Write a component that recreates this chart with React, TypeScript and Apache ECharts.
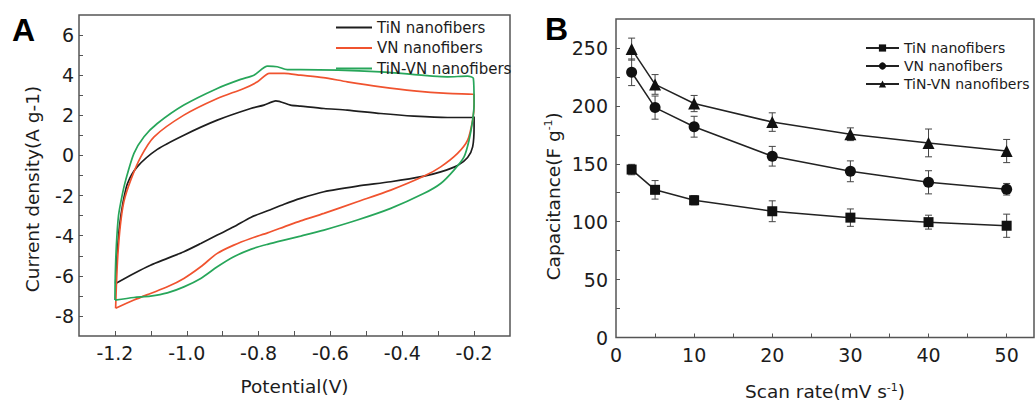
import React, { useEffect, useRef } from "react";
import * as echarts from "echarts";

// ---------- Panel A: cyclic voltammograms [potential (V), current density (A g-1)] ----------
const tinCV: number[][] = [
  [-1.198, -6.38], [-1.196, -5.5], [-1.193, -4.7], [-1.187, -3.5], [-1.178, -2.4], [-1.165, -1.4],
  [-1.138, -0.57], [-1.082, 0.3], [-1.008, 1.01], [-0.915, 1.76], [-0.822, 2.34],
  [-0.785, 2.51], [-0.752, 2.72], [-0.711, 2.51], [-0.683, 2.46], [-0.618, 2.34], [-0.553, 2.26],
  [-0.46, 2.09], [-0.367, 1.96], [-0.274, 1.89], [-0.204, 1.89], [-0.2, 1.93], [-0.2, 1.43],
  [-0.204, 0.43], [-0.218, -0.1], [-0.246, -0.5], [-0.293, -0.82], [-0.339, -1.03], [-0.432, -1.31],
  [-0.525, -1.53], [-0.618, -1.81], [-0.683, -2.14], [-0.729, -2.43], [-0.775, -2.76], [-0.822, -3.09],
  [-0.869, -3.56], [-0.915, -3.97], [-0.961, -4.39], [-1.008, -4.8], [-1.054, -5.13], [-1.101, -5.47],
  [-1.147, -5.88], [-1.198, -6.38],
];
const vnCV: number[][] = [
  [-1.198, -7.62], [-1.196, -6.5], [-1.192, -5.0], [-1.185, -3.5], [-1.175, -2.3], [-1.156, -1.23],
  [-1.128, -0.07], [-1.091, 0.93], [-1.008, 2.01], [-0.915, 2.84], [-0.841, 3.34], [-0.803, 3.67],
  [-0.77, 4.09], [-0.729, 4.09], [-0.683, 4.0], [-0.62, 3.88], [-0.553, 3.67], [-0.46, 3.42],
  [-0.367, 3.22], [-0.274, 3.09], [-0.204, 3.05], [-0.2, 3.03], [-0.2, 2.51], [-0.204, 1.76],
  [-0.218, 0.76], [-0.246, 0.1], [-0.293, -0.57], [-0.339, -1.03], [-0.432, -1.73], [-0.525, -2.31],
  [-0.618, -2.89], [-0.683, -3.26], [-0.729, -3.56], [-0.775, -3.86], [-0.822, -4.14], [-0.869, -4.47],
  [-0.915, -4.88], [-0.961, -5.55], [-1.008, -6.13], [-1.054, -6.55], [-1.101, -6.88], [-1.147, -7.21],
  [-1.198, -7.62],
];
const tinvnCV: number[][] = [
  [-1.2, -7.21], [-1.199, -6.0], [-1.196, -4.5], [-1.19, -3.0], [-1.18, -2.0], [-1.17, -1.23],
  [-1.147, 0.1], [-1.119, 0.93], [-1.082, 1.59], [-1.008, 2.51], [-0.915, 3.34], [-0.85, 3.79],
  [-0.813, 4.0], [-0.775, 4.45], [-0.748, 4.42], [-0.72, 4.28], [-0.683, 4.28], [-0.46, 4.17],
  [-0.274, 3.92], [-0.218, 3.95], [-0.202, 3.84], [-0.2, 2.6], [-0.204, 1.76], [-0.214, 0.76],
  [-0.228, -0.07], [-0.256, -0.73], [-0.293, -1.4], [-0.339, -1.89], [-0.432, -2.64], [-0.525, -3.22],
  [-0.618, -3.72], [-0.683, -4.02], [-0.729, -4.22], [-0.775, -4.43], [-0.822, -4.68], [-0.869, -5.05],
  [-0.915, -5.55], [-0.961, -6.13], [-1.008, -6.55], [-1.054, -6.85], [-1.101, -7.01], [-1.147, -7.08],
  [-1.2, -7.21],
];
const cvNames = ["TiN nanofibers", "VN nanofibers", "TiN-VN nanofibers"];
const cvColors = ["#1e1e1e", "#f0532f", "#27a65a"];
const aXLabels = [-1.2, -1.0, -0.8, -0.6, -0.4, -0.2];
const aXTicks = [-1.2, -1.1, -1.0, -0.9, -0.8, -0.7, -0.6, -0.5, -0.4, -0.3, -0.2];
const aYLabels = [-8, -6, -4, -2, 0, 2, 4, 6];
const aYTicks = [-8, -7, -6, -5, -4, -3, -2, -1, 0, 1, 2, 3, 4, 5, 6];

// ---------- Panel B: capacitance vs scan rate ----------
const scanRates = [2, 5, 10, 20, 30, 40, 50];
const tinCap = [145, 127.5, 118.5, 109, 103.5, 99.6, 96.5];
const tinErr = [4.5, 8, 4, 9, 7.5, 6, 10];
const vnCap = [229, 198.5, 182, 156.5, 143.5, 134, 128];
const vnErr = [11.5, 10, 9, 8.5, 9, 10, 5];
const tinvnCap = [249, 218.5, 202, 186, 175.5, 168, 161];
const tinvnErr = [9.5, 8.5, 7, 8, 5.5, 12, 10];
const bXLabels = [0, 10, 20, 30, 40, 50];
const bXTicks = [5, 10, 15, 20, 25, 30, 35, 40, 45, 50];
const bYLabels = [0, 50, 100, 150, 200, 250];
const bYTicks = [25, 50, 75, 100, 125, 150, 175, 200, 225, 250];

const FONT = "DejaVu Sans";
const TXT = "#1c1c1c";
const AXC = "#555";

export default function App() {
  const ref = useRef<HTMLDivElement>(null);
  useEffect(() => {
    if (!ref.current) return;
    const chart = echarts.init(ref.current, null, { renderer: "svg" });

    const labelStyle = { fontSize: 19, fontFamily: FONT, color: TXT };
    const nameStyle = { fontSize: 18.5, fontFamily: FONT, color: TXT };

    const pairs = (xs: number[], ys: number[]) => xs.map((x, i) => [x, ys[i]]);
    const errData = (ys: number[], es: number[]) =>
      scanRates.map((x, i) => [x, ys[i] - es[i], ys[i] + es[i]]);

    const errSeries = (ys: number[], es: number[]) => ({
      type: "custom",
      xAxisIndex: 1,
      yAxisIndex: 1,
      z: 1,
      data: errData(ys, es),
      encode: { x: 0, y: [1, 2] },
      renderItem: (params: any, api: any) => {
        const x = api.value(0);
        const lo = api.coord([x, api.value(1)]);
        const hi = api.coord([x, api.value(2)]);
        const w = 3.5;
        const style = { stroke: "#444", lineWidth: 1 };
        return {
          type: "group",
          children: [
            { type: "line", shape: { x1: lo[0], y1: lo[1], x2: hi[0], y2: hi[1] }, style },
            { type: "line", shape: { x1: lo[0] - w, y1: lo[1], x2: lo[0] + w, y2: lo[1] }, style },
            { type: "line", shape: { x1: hi[0] - w, y1: hi[1], x2: hi[0] + w, y2: hi[1] }, style },
          ],
        };
      },
    });

    const capSeries = (name: string, ys: number[], symbol: string, size: number) => ({
      type: "line",
      name,
      xAxisIndex: 1,
      yAxisIndex: 1,
      z: 3,
      data: pairs(scanRates, ys),
      symbol,
      symbolSize: size,
      lineStyle: { color: "#222", width: 1.5 },
      itemStyle: { color: "#111" },
    });

    const cvSeries = (i: number, d: number[][]) => ({
      type: "line",
      name: cvNames[i],
      xAxisIndex: 0,
      yAxisIndex: 0,
      data: d,
      symbol: "none",
      smooth: 0.25,
      lineStyle: { color: cvColors[i], width: 1.7 },
      itemStyle: { color: cvColors[i] },
    });

    const supRich = { sup: { fontSize: 11, fontFamily: FONT, color: TXT, verticalAlign: "top", padding: [0, 0, 9, 0] } };

    chart.setOption({
      animation: false,
      backgroundColor: "#fff",
      grid: [
        { left: 79, top: 15, right: 525, bottom: 70, show: true, borderColor: AXC, borderWidth: 1.5 },
        { left: 616, top: 19, right: 1, bottom: 66, show: true, borderColor: AXC, borderWidth: 1.5 },
      ],
      xAxis: [
        {
          type: "value",
          gridIndex: 0,
          min: -1.3,
          max: -0.1,
          name: "Potential(V)",
          nameLocation: "middle",
          nameGap: 41,
          nameTextStyle: nameStyle,
          axisLine: { show: false, onZero: false },
          splitLine: { show: false },
          axisTick: { inside: true, length: 5, customValues: aXTicks, lineStyle: { color: AXC } },
          axisLabel: { ...labelStyle, margin: 7, customValues: aXLabels, formatter: (v: number) => v.toFixed(1) },
        },
        {
          type: "value",
          gridIndex: 1,
          min: 0,
          max: 53.5,
          name: "Scan rate(mV s{sup|-1})",
          nameLocation: "middle",
          nameGap: 44,
          nameTextStyle: { ...nameStyle, rich: supRich },
          axisLine: { show: false, onZero: false },
          splitLine: { show: false },
          axisTick: { inside: true, length: 4, customValues: bXTicks, lineStyle: { color: AXC } },
          axisLabel: { ...labelStyle, margin: 8, customValues: bXLabels },
        },
      ],
      yAxis: [
        {
          type: "value",
          gridIndex: 0,
          min: -9,
          max: 7,
          name: "Current density(A g-1)",
          nameLocation: "middle",
          nameGap: 37,
          nameTextStyle: { ...nameStyle, padding: [0, 27, 0, 0] },
          axisLine: { show: false, onZero: false },
          splitLine: { show: false },
          axisTick: { inside: true, length: 4, customValues: aYTicks, lineStyle: { color: AXC } },
          axisLabel: { ...labelStyle, margin: 5, customValues: aYLabels },
        },
        {
          type: "value",
          gridIndex: 1,
          min: 0,
          max: 275,
          name: "Capacitance(F g{sup|-1})",
          nameLocation: "middle",
          nameGap: 53,
          nameTextStyle: { ...nameStyle, padding: [0, 36, 0, 0], rich: supRich },
          axisLine: { show: false, onZero: false },
          splitLine: { show: false },
          axisTick: { inside: true, length: 4, customValues: bYTicks, lineStyle: { color: AXC } },
          axisLabel: { ...labelStyle, margin: 8, customValues: bYLabels },
        },
      ],
      legend: [
        {
          orient: "vertical",
          left: 331,
          top: 15,
          itemWidth: 36,
          itemHeight: 2,
          itemGap: 5.5,
          icon: "rect",
          data: cvNames,
          textStyle: { fontSize: 15, fontFamily: FONT, color: TXT },
          selectedMode: false,
        },
        {
          orient: "vertical",
          left: 860,
          top: 36,
          itemWidth: 33,
          itemHeight: 9,
          itemGap: 4,
          data: cvNames.map((n) => "B:" + n),
          formatter: (n: string) => n.replace(/^B:/, ""),
          textStyle: { fontSize: 14, fontFamily: FONT, color: TXT },
          selectedMode: false,
        },
      ],
      graphic: [
        { type: "text", left: 12, top: 14, style: { text: "A", fontSize: 32, fontWeight: "bold", fontFamily: "Liberation Sans", fill: "#000" } },
        { type: "text", left: 545, top: 13, style: { text: "B", fontSize: 32, fontWeight: "bold", fontFamily: "Liberation Sans", fill: "#000" } },
      ],
      series: [
        cvSeries(0, tinCV),
        cvSeries(1, vnCV),
        cvSeries(2, tinvnCV),
        errSeries(tinCap, tinErr),
        errSeries(vnCap, vnErr),
        errSeries(tinvnCap, tinvnErr),
        capSeries("B:" + cvNames[0], tinCap, "rect", 10),
        capSeries("B:" + cvNames[1], vnCap, "circle", 11),
        capSeries("B:" + cvNames[2], tinvnCap, "triangle", 12),
      ],
    });
    return () => chart.dispose();
  }, []);
  return (
    <div
      ref={ref}
      style={{ position: "absolute", left: 0, top: 0, width: 1035, height: 406, background: "#fff" }}
    />
  );
}
